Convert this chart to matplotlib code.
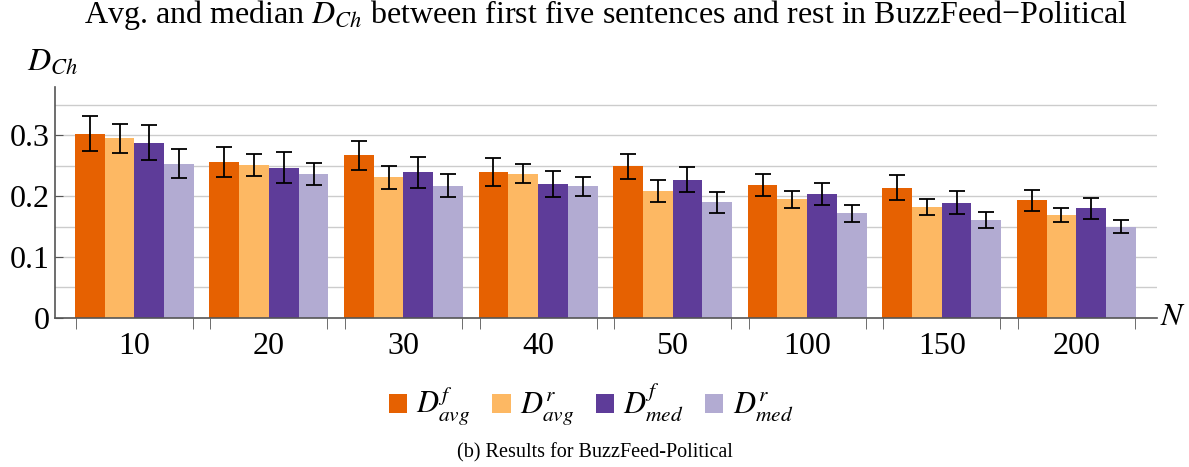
import numpy as np
import matplotlib
matplotlib.use('Agg')
import matplotlib.pyplot as plt
from matplotlib.patches import Patch

plt.rcParams['font.family'] = ['Liberation Serif', 'DejaVu Serif']
plt.rcParams['mathtext.fontset'] = 'stix'

# window sizes N
groups = ['10', '20', '30', '40', '50', '100', '150', '200']

# mean values and error half-widths per series
d_f_avg = [0.303, 0.256, 0.267, 0.239, 0.249, 0.219, 0.214, 0.193]
d_f_avg_err = [0.029, 0.025, 0.024, 0.023, 0.021, 0.018, 0.020, 0.017]
d_r_avg = [0.295, 0.251, 0.231, 0.237, 0.208, 0.195, 0.182, 0.169]
d_r_avg_err = [0.024, 0.018, 0.019, 0.016, 0.018, 0.014, 0.013, 0.011]
d_f_med = [0.288, 0.247, 0.239, 0.220, 0.227, 0.204, 0.189, 0.180]
d_f_med_err = [0.029, 0.025, 0.025, 0.022, 0.021, 0.018, 0.019, 0.017]
d_r_med = [0.253, 0.236, 0.217, 0.216, 0.190, 0.172, 0.161, 0.150]
d_r_med_err = [0.024, 0.018, 0.019, 0.016, 0.017, 0.014, 0.013, 0.011]

series = [
    (d_f_avg, d_f_avg_err, '#E66101', r'$D^{f}_{avg}$'),
    (d_r_avg, d_r_avg_err, '#FDB863', r'$D^{r}_{avg}$'),
    (d_f_med, d_f_med_err, '#5E3C99', r'$D^{f}_{med}$'),
    (d_r_med, d_r_med_err, '#B2ABD2', r'$D^{r}_{med}$'),
]

fig = plt.figure(figsize=(11.89, 4.67), dpi=100)
ax = fig.add_axes([55 / 1189, 1 - 317.7 / 467, 1102 / 1189, 231 / 467])

x = np.arange(len(groups))
w = 0.221
for i, (vals, errs, col, lab) in enumerate(series):
    pos = x + (i - 1.5) * w
    ax.bar(pos, vals, width=w, color=col, edgecolor='none', zorder=2)
    ax.errorbar(pos, vals, yerr=errs, fmt='none', ecolor='black',
                elinewidth=1.3, capsize=6, capthick=1.3, zorder=3)

ax.set_xlim(-0.59, 7.60)
ax.set_ylim(0, 0.38)

# gridlines every 0.05
for g in np.arange(0.05, 0.36, 0.05):
    ax.axhline(g, color='#cccccc', lw=1, zorder=1)

ax.set_yticks([0, 0.1, 0.2, 0.3])
ax.set_yticklabels(['0', '0.1', '0.2', '0.3'])
ax.tick_params(axis='y', direction='in', length=6, color='#555555', labelsize=23, pad=4)

ax.set_xticks(x)
ax.set_xticklabels(groups)
ax.tick_params(axis='x', length=0, labelsize=23, pad=10)
edges = np.concatenate([x - 0.435, x + 0.435])
ax.set_xticks(edges, minor=True)
ax.tick_params(axis='x', which='minor', direction='out', length=8, color='#555555')

for s in ['top', 'right']:
    ax.spines[s].set_visible(False)
for s in ['left', 'bottom']:
    ax.spines[s].set_color('#555555')
    ax.spines[s].set_linewidth(1.2)

ax.annotate(r'$N$', xy=(1.0, 0), xycoords='axes fraction', xytext=(2, 0),
            textcoords='offset points', fontsize=23, va='center', ha='left')
fig.text(52 / 1189, 1 - 62 / 467, r'$D_{Ch}$', fontsize=23, ha='center', va='center')

fig.text(606 / 1189, 1 - 15 / 467,
         r'Avg. and median $D_{Ch}$ between first five sentences and rest in BuzzFeed' + '\u2212' + 'Political',
         fontsize=23, ha='center', va='center')

handles = [Patch(facecolor=c, edgecolor='none') for _, _, c, _ in series]
labels = [l for _, _, _, l in series]
fig.legend(handles, labels, loc='center', bbox_to_anchor=(591 / 1189, 1 - 405 / 467),
           ncol=4, frameon=False, fontsize=22, handlelength=0.6, handleheight=0.6,
           handletextpad=0.3, columnspacing=0.7)

fig.text(0.5, 1 - 453 / 467, '(b) Results for BuzzFeed-Political', fontsize=14.5,
         ha='center', va='center')

fig.savefig('out.png', dpi=100)
